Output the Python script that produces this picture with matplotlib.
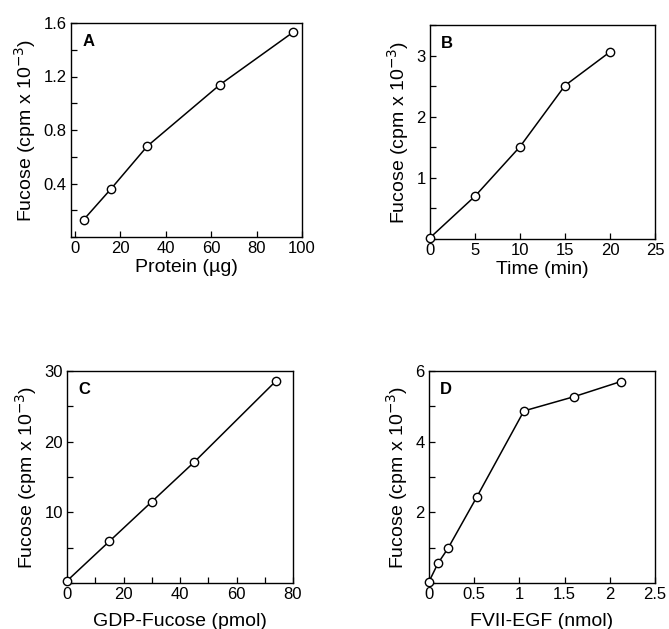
import matplotlib
matplotlib.use('Agg')
from matplotlib import pyplot as plt
from matplotlib.ticker import MultipleLocator

plt.rcParams['font.family'] = ['Liberation Sans', 'DejaVu Sans']

# panel A: fucose vs protein
protein_x = [4, 16, 32, 64, 96]
protein_y = [0.13, 0.36, 0.68, 1.14, 1.53]

# panel B: fucose vs time
time_x = [0, 5, 10, 15, 20]
time_y = [0.02, 0.70, 1.51, 2.51, 3.06]

# panel C: fucose vs GDP-fucose
gdp_x = [0, 15, 30, 45, 74]
gdp_y = [0.3, 5.9, 11.5, 17.1, 28.6]

# panel D: fucose vs FVII-EGF
egf_x = [0, 0.1, 0.21, 0.53, 1.05, 1.6, 2.12]
egf_y = [0.04, 0.56, 0.98, 2.44, 4.87, 5.27, 5.70]

ylab = 'Fucose (cpm x 10$^{-3}$)'

fig = plt.figure(figsize=(6.69, 6.29), dpi=100)
W, H = 669, 629

def make_ax(l, r, t, b):
    return fig.add_axes([l / W, 1 - b / H, (r - l) / W, (b - t) / H])

panels = [
    # x, y, letter, xlabel, xlim, ylim, xticks, xminor, yticks, yminor, box, xlabelpad
    (protein_x, protein_y, 'A', 'Protein (\u00b5g)', (-1.6, 100), (0, 1.6),
     [0, 20, 40, 60, 80, 100], 20, [0.4, 0.8, 1.2, 1.6], 0.2, (71, 302, 23, 237), 2),
    (time_x, time_y, 'B', 'Time (min)', (0, 25), (0, 3.5),
     [0, 5, 10, 15, 20, 25], 5, [1, 2, 3], 0.5, (430, 655, 25, 239), 2),
    (gdp_x, gdp_y, 'C', 'GDP-Fucose (pmol)', (0, 80), (0, 30),
     [0, 20, 40, 60, 80], 10, [10, 20, 30], 5, (67, 293, 371, 583), 8),
    (egf_x, egf_y, 'D', 'FVII-EGF (nmol)', (0, 2.5), (0, 6),
     [0, 0.5, 1, 1.5, 2, 2.5], 0.5, [2, 4, 6], 1, (429, 655, 371, 583), 8),
]

for x, y, letter, xl, xlim, ylim, xt, xm, yt, ym, box, lp in panels:
    ax = make_ax(*box)
    ax.plot(x, y, color='black', linewidth=1.1, marker='o', markersize=6,
            markerfacecolor='white', markeredgecolor='black', markeredgewidth=1.0,
            clip_on=False, zorder=3)
    ax.set_xlim(*xlim)
    ax.set_ylim(*ylim)
    ax.set_xticks(xt)
    ax.set_xticklabels([('%g' % v) for v in xt])
    ax.set_yticks(yt)
    ax.set_yticklabels([('%g' % v) for v in yt])
    ax.xaxis.set_minor_locator(MultipleLocator(xm))
    ax.yaxis.set_minor_locator(MultipleLocator(ym))
    ax.tick_params(which='both', direction='in', top=False, right=False,
                   labelsize=12, width=0.9, length=4)
    ax.tick_params(axis='x', pad=3)
    ax.tick_params(axis='y', pad=3)
    for s in ax.spines.values():
        s.set_linewidth(1.0)
    ax.set_xlabel(xl, fontsize=14, labelpad=lp)
    ax.set_ylabel(ylab, fontsize=14, labelpad=4)
    ax.text(0.05, 0.95, letter, transform=ax.transAxes, fontsize=12,
            fontweight='bold', va='top', ha='left')

fig.savefig('out.png', dpi=100)
